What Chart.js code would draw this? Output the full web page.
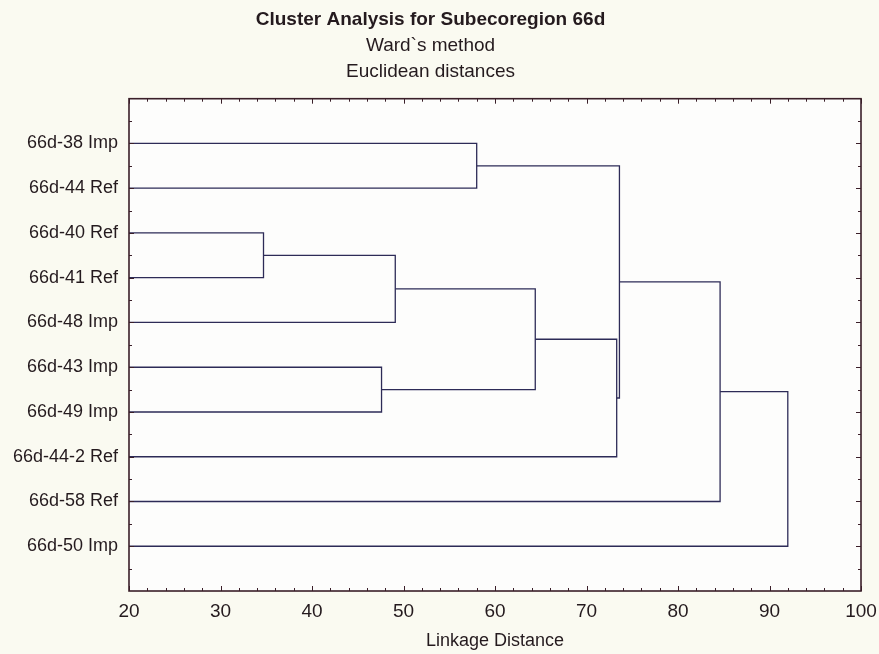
<!DOCTYPE html>
<html>
<head>
<meta charset="utf-8">
<title>Cluster Analysis for Subecoregion 66d</title>
<script src="https://cdn.jsdelivr.net/npm/chart.js@4.4.1/dist/chart.umd.min.js"></script>
<style>
  html, body { margin: 0; padding: 0; background: #fafaf1; }
  #wrap { width: 879px; height: 654px; }
</style>
</head>
<body>
<div id="wrap"><canvas id="chart" width="879" height="654"></canvas></div>
<script>
// Leaves of the dendrogram, top to bottom
const leafLabels = [
  '66d-38 Imp', '66d-44 Ref', '66d-40 Ref', '66d-41 Ref', '66d-48 Imp',
  '66d-43 Imp', '66d-49 Imp', '66d-44-2 Ref', '66d-58 Ref', '66d-50 Imp'
];
// Agglomeration steps: node ids < 10 are leaves, node 10 + k is the k-th merge
const mergeLeft  = [2, 5, 10, 0, 12, 14, 13, 16, 17];
const mergeRight = [3, 6, 4, 1, 11, 7, 15, 8, 9];
const mergeHeight = [34.7, 47.6, 49.1, 58.0, 64.4, 73.3, 73.6, 84.6, 92.0];
// Linkage distance axis
const xTickValues = [20, 30, 40, 50, 60, 70, 80, 90, 100];

const FONT = "'Liberation Sans', Arial, Helvetica, sans-serif";
const TEXT = '#241a1e';
const FRAME = '#3a1f29';
const LINK = '#2d2b57';

// Height and row position of every node in the tree
const nLeaves = leafLabels.length;
const nodeX = [], nodeY = [];
for (let i = 0; i < nLeaves; i++) { nodeX.push(0); nodeY.push(i + 1); }
mergeHeight.forEach((h, k) => {
  nodeX.push(h);
  nodeY.push((nodeY[mergeLeft[k]] + nodeY[mergeRight[k]]) / 2);
});

// One elbow-shaped line per merge
const datasets = mergeHeight.map((h, k) => {
  const a = mergeLeft[k], b = mergeRight[k];
  return {
    data: [
      { x: nodeX[a], y: nodeY[a] },
      { x: h, y: nodeY[a] },
      { x: h, y: nodeY[b] },
      { x: nodeX[b], y: nodeY[b] }
    ],
    showLine: true,
    borderColor: LINK,
    borderWidth: 1.3,
    pointRadius: 0,
    tension: 0,
    fill: false
  };
});

// Panel background, frame and inward tick marks
const framePlugin = {
  id: 'frameTicks',
  beforeDatasetsDraw(chart) {
    const { ctx, chartArea: a } = chart;
    ctx.save();
    ctx.fillStyle = '#fdfdfc';
    ctx.fillRect(a.left, a.top, a.right - a.left, a.bottom - a.top);
    ctx.restore();
  },
  afterDatasetsDraw(chart) {
    const { ctx, chartArea: a, scales: { x, y } } = chart;
    ctx.save();
    ctx.strokeStyle = FRAME;
    ctx.lineWidth = 1;
    ctx.beginPath();
    for (let v = x.min; v <= x.max + 1e-9; v += 2) {
      const px = Math.round(x.getPixelForValue(v)) + 0.5;
      const len = (v % 10 === 0) ? 5 : 3;
      ctx.moveTo(px, a.bottom); ctx.lineTo(px, a.bottom - len);
      ctx.moveTo(px, a.top); ctx.lineTo(px, a.top + len);
    }
    for (let v = y.min + 0.5; v < y.max; v += 0.5) {
      const py = Math.round(y.getPixelForValue(v)) + 0.5;
      const len = (v % 1 === 0) ? 5 : 3;
      ctx.moveTo(a.left, py); ctx.lineTo(a.left + len, py);
      ctx.moveTo(a.right, py); ctx.lineTo(a.right - len, py);
    }
    ctx.stroke();
    ctx.lineWidth = 1.6;
    ctx.strokeRect(a.left, a.top, a.right - a.left, a.bottom - a.top);
    ctx.restore();
  }
};

new Chart(document.getElementById('chart'), {
  type: 'scatter',
  data: { datasets },
  options: {
    responsive: false,
    animation: false,
    events: [],
    layout: { padding: { left: 0, right: 18, top: 0, bottom: 0 } },
    plugins: {
      legend: { display: false },
      tooltip: { enabled: false },
      title: {
        display: true,
        text: 'Cluster Analysis for Subecoregion 66d',
        color: TEXT,
        font: { family: FONT, size: 19, weight: 'bold', lineHeight: 1.2 },
        padding: { top: 8.6, bottom: 0 }
      },
      subtitle: {
        display: true,
        text: ['Ward`s method', 'Euclidean distances'],
        color: TEXT,
        font: { family: FONT, size: 19, weight: 'normal', lineHeight: 1.35 },
        padding: { top: 2, bottom: 14 }
      }
    },
    scales: {
      x: {
        type: 'linear',
        position: 'bottom',
        min: xTickValues[0],
        max: xTickValues[xTickValues.length - 1],
        afterBuildTicks: s => { s.ticks = xTickValues.map(v => ({ value: v })); },
        ticks: { color: TEXT, font: { family: FONT, size: 19 }, padding: 9, maxRotation: 0 },
        grid: { display: false, drawTicks: false },
        border: { display: false },
        title: {
          display: true,
          text: 'Linkage Distance',
          color: TEXT,
          font: { family: FONT, size: 18 },
          padding: { top: 0, bottom: 2 }
        },
        afterFit: s => { s.height = 63; s.paddingLeft = 0; s.paddingRight = 0; }
      },
      y: {
        type: 'linear',
        reverse: true,
        min: 0,
        max: nLeaves + 1,
        afterBuildTicks: s => { s.ticks = leafLabels.map((_, i) => ({ value: i + 1 })); },
        ticks: {
          color: TEXT,
          font: { family: FONT, size: 18 },
          padding: 11,
          callback: v => leafLabels[v - 1]
        },
        grid: { display: false, drawTicks: false },
        border: { display: false },
        afterFit: s => { s.width = 129; }
      }
    }
  },
  plugins: [framePlugin]
});
</script>
</body>
</html>
